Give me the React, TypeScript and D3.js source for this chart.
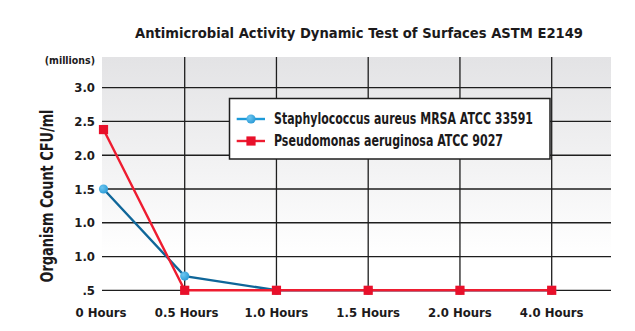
import React from "react";
import * as d3 from "d3";

const categories = ["0 Hours", "0.5 Hours", "1.0 Hours", "1.5 Hours", "2.0 Hours", "4.0 Hours"];
const mrsaValues = [1.5, 0.21, 0, 0, 0, 0];
const pseudoValues = [2.38, 0, 0, 0, 0, 0];
const yTickValues = [0, 0.5, 1.0, 1.5, 2.0, 2.5, 3.0];
const yTickLabels = [".5", "1.0", "1.0", "1.5", "2.0", "2.5", "3.0"];
const seriesNames = ["Staphylococcus aureus MRSA ATCC 33591", "Pseudomonas aeruginosa ATCC 9027"];
const titleText = "Antimicrobial Activity Dynamic Test of Surfaces ASTM E2149";
const yTitleText = "Organism Count CFU/ml";

const W = 635;
const H = 331;
const plotLeft = 102;
const plotRight = 611;
const plotTop = 57;
const plotBottom = 290.3;
const FONT = "'DejaVu Sans', sans-serif";
const TEXT = "#1c1a1b";
const textStyle: React.CSSProperties = { fontStretch: "condensed" };

export default function App() {
  const idx = categories.map((_, i) => i);
  const x = d3.scaleLinear().domain([0, 1, categories.length - 1]).range([103.5, 184.7, 551.7]);
  const y = d3.scaleLinear().domain([0, 3.0]).range([plotBottom, 87.7]);
  const line = d3
    .line<number>()
    .x((_, i) => x(i))
    .y((d) => y(d));

  return (
    <svg width={W} height={H} style={{ position: "absolute", left: 0, top: 0 }}>
      <defs>
        <linearGradient id="bg" x1="0" y1="0" x2="0" y2="1">
          <stop offset="0" stopColor="#e3e3e5" />
          <stop offset="0.85" stopColor="#ffffff" />
          <stop offset="1" stopColor="#ffffff" />
        </linearGradient>
        <radialGradient id="dot" cx="0.35" cy="0.35" r="0.7">
          <stop offset="0" stopColor="#6cc6f0" />
          <stop offset="1" stopColor="#2a9ad6" />
        </radialGradient>
      </defs>
      <rect x={0} y={0} width={W} height={H} fill="#ffffff" />
      <rect x={plotLeft} y={plotTop} width={plotRight - plotLeft} height={plotBottom - plotTop} fill="url(#bg)" />

      {idx.slice(1).map((i) => (
        <line key={"v" + i} x1={x(i)} x2={x(i)} y1={plotTop} y2={plotBottom} stroke="#1e1e1e" strokeWidth={1.3} />
      ))}
      {yTickValues.map((v) => (
        <line key={"h" + v} x1={plotLeft} x2={plotRight} y1={y(v)} y2={y(v)} stroke="#1e1e1e" strokeWidth={1.3} />
      ))}

      <text x={135} y={38} textLength={448} lengthAdjust="spacingAndGlyphs" fontFamily={FONT} style={textStyle} fontWeight="bold" fontSize={14.5} fill={TEXT}>
        {titleText}
      </text>
      <text x={95} y={64} textAnchor="end" fontFamily={FONT} style={textStyle} fontWeight="bold" fontSize={10.5} fill={TEXT}>
        (millions)
      </text>

      <g>
        {yTickValues.map((v, i) => (
          <text key={"ytick-" + i} x={95} y={y(v) + 4.7} textAnchor="end" fontFamily={FONT} style={textStyle} fontWeight="bold" fontSize={13} fill={TEXT}>
            {yTickLabels[i]}
          </text>
        ))}
      </g>
      {categories.map((c, i) => (
        <text key={c} x={i === 0 ? 101 : x(i) + (i === 1 ? 2 : 0)} y={316.5} textAnchor="middle" fontFamily={FONT} style={textStyle} fontWeight="bold" fontSize={13} fill={TEXT}>
          {c}
        </text>
      ))}

      <text
        transform={`translate(53,196) rotate(-90)`}
        textAnchor="middle"
        textLength={173}
        lengthAdjust="spacingAndGlyphs"
        fontFamily={FONT}
        style={textStyle}
        fontWeight="bold"
        fontSize={18}
        fill={TEXT}
      >
        {yTitleText}
      </text>

      <path d={line(mrsaValues) || ""} fill="none" stroke="#0f6699" strokeWidth={2.4} />
      {mrsaValues.map((v, i) => (
        <circle key={"m" + i} cx={x(i)} cy={y(v)} r={4.6} fill="url(#dot)" />
      ))}
      <path d={line(pseudoValues) || ""} fill="none" stroke="#ee1c30" strokeWidth={2.4} />
      {pseudoValues.map((v, i) => (
        <rect key={"p" + i} x={x(i) - 4.6} y={y(v) - 4.6} width={9.2} height={9.2} fill="#e8102a" />
      ))}

      <rect x={229.5} y={98.5} width={320.5} height={60.5} fill="#ffffff" stroke="#1e1e1e" strokeWidth={1.5} />
      <line x1={236.7} x2={265} y1={119} y2={119} stroke="#1d9ad8" strokeWidth={2.4} />
      <circle cx={251} cy={119} r={4.6} fill="url(#dot)" />
      <line x1={236.7} x2={265} y1={141} y2={141} stroke="#ee1c30" strokeWidth={2.4} />
      <rect x={246.4} y={136.4} width={9.2} height={9.2} fill="#e8102a" />
      <text x={274} y={124} textLength={259} lengthAdjust="spacingAndGlyphs" fontFamily={FONT} style={textStyle} fontWeight="bold" fontSize={15} fill={TEXT}>
        {seriesNames[0]}
      </text>
      <text x={274} y={146} textLength={229} lengthAdjust="spacingAndGlyphs" fontFamily={FONT} style={textStyle} fontWeight="bold" fontSize={15} fill={TEXT}>
        {seriesNames[1]}
      </text>
    </svg>
  );
}
